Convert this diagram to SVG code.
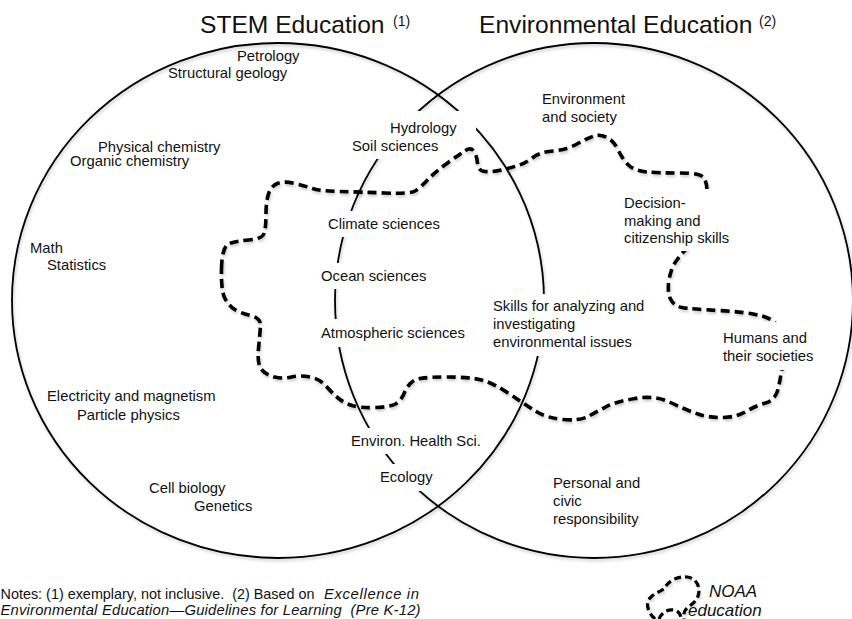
<svg xmlns="http://www.w3.org/2000/svg" width="852" height="619" viewBox="0 0 852 619">
<defs>
<style>
text{font-family:"Liberation Sans",Arial,Helvetica,sans-serif;fill:#111;}
.lbl{font-size:14.8px;}
.title{font-size:24.6px;}
.sup{font-size:14px;}
.it{font-style:italic;}
.circ{fill:none;stroke:#000;stroke-width:1.8;}
.dash{fill:none;stroke:#000;stroke-width:3.6;stroke-dasharray:9 5;stroke-linejoin:round;}
.bg{fill:#fff;stroke:none;}
</style>
<filter id="sh" x="-5%" y="-5%" width="110%" height="110%">
<feDropShadow dx="1" dy="2" stdDeviation="1.5" flood-color="#000" flood-opacity="0.22"/>
</filter>
</defs>
<rect width="852" height="619" fill="#fff"/>

<g id="titles">
<text class="title" x="200" y="33">STEM Education</text>
<text class="sup" x="393" y="26">(1)</text>
<text class="title" x="479" y="33">Environmental Education</text>
<text class="sup" x="759" y="26">(2)</text>
</g>

<g id="connectors">
<ellipse id="stem-circle" class="circ" filter="url(#sh)" cx="278" cy="300.5" rx="266" ry="257.5"/>
<ellipse id="ee-circle" class="circ" filter="url(#sh)" cx="594" cy="300.5" rx="259" ry="257.5"/>
<path id="noaa-region" class="dash" filter="url(#sh)" d="M221.5,268.5 Q222,247 228.5,244 Q235,241 248.5,240 Q262,239 264,233.5 Q266,228 266,214 Q266,200 269,192.5 Q272,185 278.5,183 Q285,181 295,183.5 Q305,186 312.5,188.5 Q320,191 340,191.5 Q360,192 385,193 Q410,194 415,191 Q420,188 427.5,180 Q435,172 447.5,163 Q460,154 465.5,150.5 Q471,147 474,151.5 Q477,156 477.5,163.5 Q478,171 485.5,171.5 Q493,172 501.5,170 Q510,168 518,165.5 Q526,163 533,157.5 Q540,152 553,151 Q566,150 577,144 Q588,138 594,136 Q600,134 607,137.5 Q614,141 618.5,150.5 Q623,160 629,165.5 Q635,171 647.5,172 Q660,173 680,173 Q700,173 703.5,177.5 Q707,182 707,191 Q707,200 701,220 Q695,240 688.5,246.5 Q682,253 676.5,260.5 Q671,268 669,280 Q667,292 670.5,299 Q674,306 682,307.5 Q690,309 718.5,310.5 Q747,312 762,316 Q777,320 781.5,332.5 Q786,345 783.5,360 Q781,375 778.5,387.5 Q776,400 765.5,403 Q755,406 746,411.5 Q737,417 723.5,417.5 Q710,418 698,414 Q686,410 670.5,402.5 Q655,395 635,398.5 Q615,402 606.5,406.5 Q598,411 589,416 Q580,421 563,419.5 Q546,418 534.5,410.5 Q523,403 508,393 Q493,383 481.5,380 Q470,377 445,377 Q420,377 414,380.5 Q408,384 404.5,392.5 Q401,401 395.5,404 Q390,407 375,407.5 Q360,408 352,405.5 Q344,403 338,398 Q332,393 326,386 Q320,379 310,377 Q300,375 291.5,377 Q283,379 274.5,377 Q266,375 261.5,369.5 Q257,364 258.5,348.5 Q260,333 260.5,325.5 Q261,318 250.5,315.5 Q240,313 234,309 Q228,305 224.5,297.5 Q221,290 221.5,268.5 Z"/>
</g>

<g id="stem-topics">
<text class="lbl" x="237" y="61">Petrology</text>
<text class="lbl" x="168" y="77.5">Structural geology</text>
<text class="lbl" x="98" y="152">Physical chemistry</text>
<text class="lbl" x="70" y="166">Organic chemistry</text>
<text class="lbl" x="30" y="253">Math</text>
<text class="lbl" x="47" y="270">Statistics</text>
<text class="lbl" x="47" y="401">Electricity and magnetism</text>
<text class="lbl" x="77" y="420">Particle physics</text>
<text class="lbl" x="149" y="493">Cell biology</text>
<text class="lbl" x="194" y="511">Genetics</text>
</g>

<g id="overlap-topics">
<rect class="bg" x="384" y="111" width="92" height="27"/>
<rect class="bg" x="348" y="138" width="93" height="21"/>
<text class="lbl" x="390" y="133">Hydrology</text>
<text class="lbl" x="352" y="151">Soil sciences</text>
<rect class="bg" x="324" y="211" width="120" height="26"/>
<text class="lbl" x="328" y="229">Climate sciences</text>
<rect class="bg" x="317" y="263" width="114" height="26"/>
<text class="lbl" x="321" y="281">Ocean sciences</text>
<rect class="bg" x="317" y="319" width="152" height="28"/>
<text class="lbl" x="321" y="338">Atmospheric sciences</text>
<rect class="bg" x="347" y="428" width="137" height="26"/>
<text class="lbl" x="351" y="446">Environ. Health Sci.</text>
<rect class="bg" x="376" y="464" width="60" height="27"/>
<text class="lbl" x="380" y="482">Ecology</text>
</g>

<g id="ee-topics">
<text class="lbl" x="542" y="104">Environment</text>
<text class="lbl" x="542" y="122">and society</text>
<rect class="bg" x="620" y="189" width="114" height="62"/>
<text class="lbl" x="624" y="208">Decision-</text>
<text class="lbl" x="624" y="226">making and</text>
<text class="lbl" x="624" y="243">citizenship skills</text>
<rect class="bg" x="489" y="294" width="161" height="62"/>
<text class="lbl" x="493" y="311">Skills for analyzing and</text>
<text class="lbl" x="493" y="329">investigating</text>
<text class="lbl" x="493" y="347">environmental issues</text>
<rect class="bg" x="719" y="322" width="102" height="48"/>
<text class="lbl" x="723" y="343">Humans and</text>
<text class="lbl" x="723" y="361">their societies</text>
<text class="lbl" x="553" y="488">Personal and</text>
<text class="lbl" x="553" y="506">civic</text>
<text class="lbl" x="553" y="524">responsibility</text>
</g>

<g id="notes">
<text xml:space="preserve" style="font-size:14.4px" x="0.5" y="599">Notes: (1) exemplary, not inclusive.  (2) Based on<tspan class="it" style="font-size:14.8px" x="324" textLength="95">Excellence in</tspan></text>
<text xml:space="preserve" class="lbl it" x="0.5" y="615" textLength="420">Environmental Education—Guidelines for Learning  (Pre K-12)</text>
</g>

<g id="legend">
<path class="dash" style="stroke-width:3.2;stroke-dasharray:7 4" filter="url(#sh)" d="M655,619 C647,612 645,602 651,597 C655,593 661,591 664,589 C668,581 677,576 687,577 C697,578 701,588 698,596 C696,602 691,605 687,608 C684,611 683,615 684,619"/>
<path class="dash" style="stroke-width:3.2;stroke-dasharray:7 4" d="M659,619 C662,612 668,609 674,610 C679,611 681,615 681,619"/>
<text class="it" style="font-size:17px" x="709" y="597">NOAA</text>
<text class="it" style="font-size:17px" x="688" y="616">education</text>
</g>
</svg>
